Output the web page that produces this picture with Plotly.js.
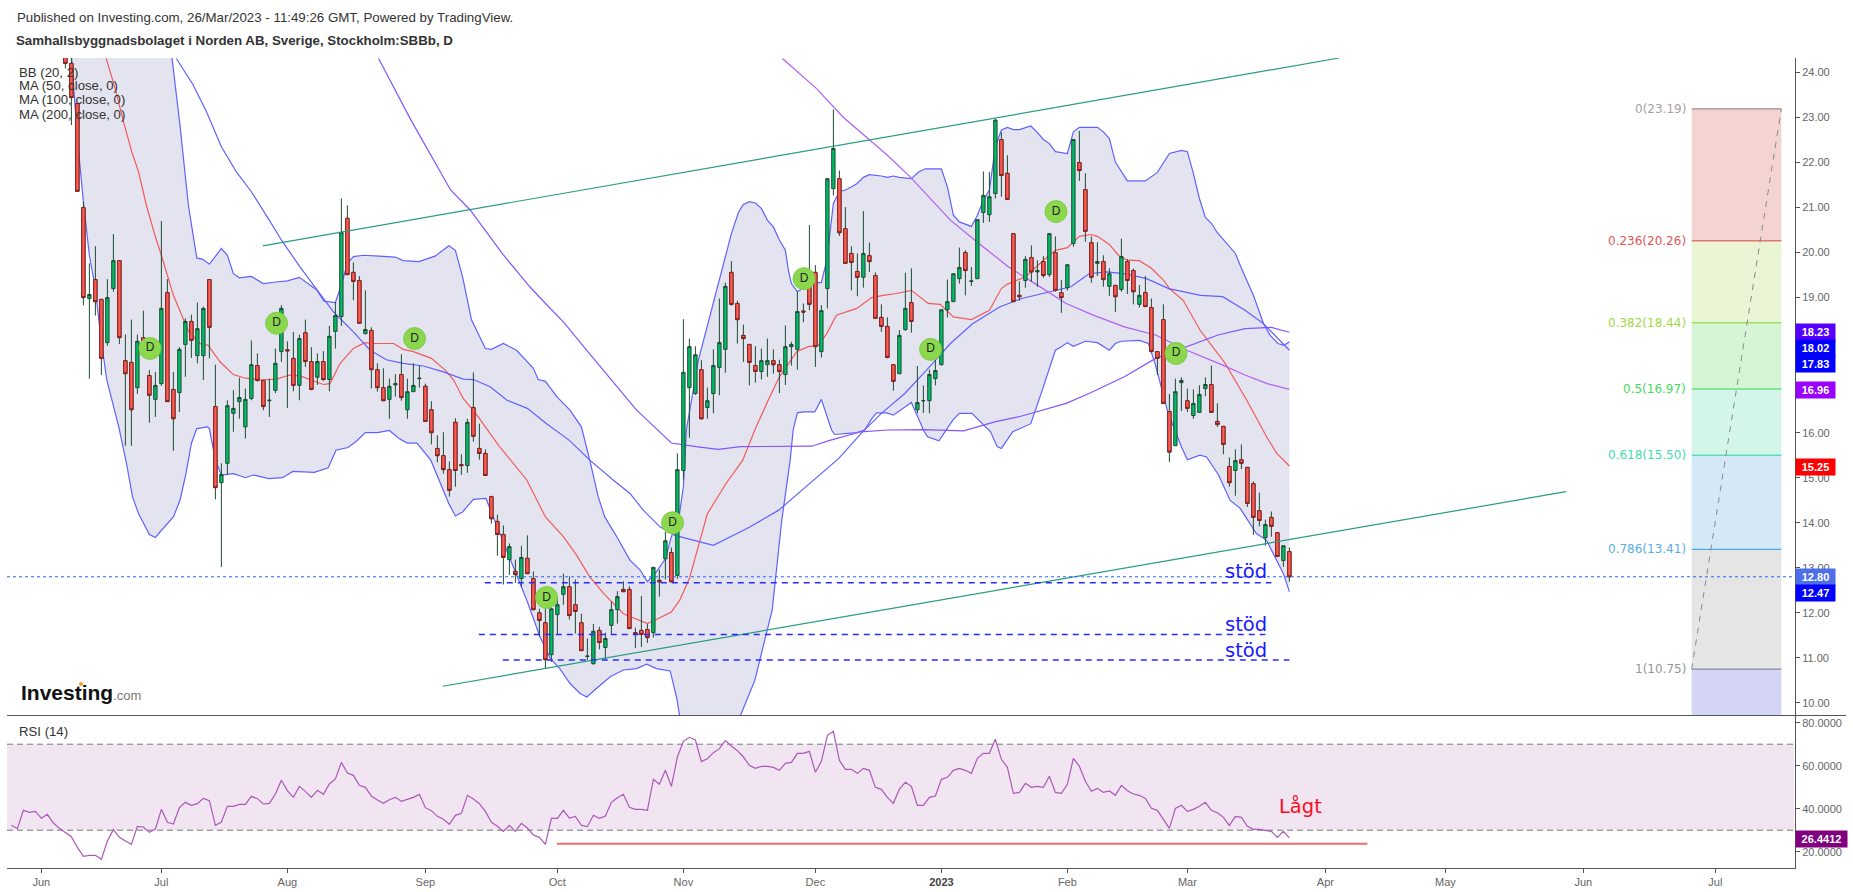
<!DOCTYPE html>
<html>
<head>
<meta charset="utf-8">
<title>SBBb</title>
<script src="https://cdn.plot.ly/plotly-3.0.1.min.js"></script>
<style>
    html, body { margin: 0; padding: 0; background: #fff; }
    #chart { width: 1853px; height: 892px; }
</style>
</head>
<body>
<div id="chart"></div>
<script>
// Daily candles, first one is bar 4 (bar 0 = 1 Jun 2022), one per trading day
const firstBar = 4;
const opens = [24.55,24.20,23.31,21.00,18.98,19.40,18.96,18.00,19.20,19.82,17.60,17.56,17.00,18.11,17.27,16.74,17.09,19.11,16.96,16.89,
    17.96,18.47,17.71,17.71,19.40,16.58,14.89,15.32,16.43,16.69,16.13,16.76,17.49,17.16,16.71,16.94,17.80,17.84,17.65,17.05,
    18.22,17.58,17.23,17.58,17.18,18.25,18.58,20.76,19.56,19.38,18.20,18.27,17.40,17.00,16.74,17.06,17.29,16.51,16.91,17.20,
    17.03,16.51,15.65,15.49,15.18,16.23,15.29,15.27,16.56,15.65,15.54,14.58,14.03,13.74,13.18,12.92,12.76,13.21,12.76,12.00,
    11.78,11.07,11.96,12.41,12.58,12.18,11.78,11.03,10.87,11.61,11.23,11.72,12.07,12.52,12.52,11.56,11.61,11.63,11.56,12.72,
    13.20,13.34,12.83,15.16,17.00,16.87,17.40,16.56,16.87,17.45,17.85,19.56,18.87,18.16,17.96,17.49,17.36,17.51,17.60,17.51,
    17.29,17.91,17.85,18.70,19.24,19.56,17.80,19.20,21.42,21.64,20.53,19.98,19.58,19.45,19.93,19.49,18.56,18.36,17.51,17.31,
    18.29,18.89,16.51,16.71,16.71,17.20,17.51,18.73,18.91,19.42,20.00,19.36,19.42,20.89,20.84,21.31,22.51,21.76,20.42,19.05,
    19.38,19.89,19.57,19.80,19.51,20.00,19.11,19.22,20.20,22.00,21.40,20.22,19.76,19.80,19.25,19.27,19.18,19.80,19.60,18.85,
    19.11,18.78,17.80,18.51,16.47,15.71,17.11,16.71,16.38,16.45,16.98,17.07,16.25,16.14,15.25,15.16,15.40,15.23,14.87,14.27,
    13.67,14.12,13.78,13.16,13.36];
const highs = [24.70,24.32,23.31,21.13,19.76,20.14,18.96,19.41,20.41,19.82,18.18,18.51,18.18,18.71,17.39,17.35,20.70,19.41,17.35,17.90,
    18.54,18.62,18.89,18.80,19.40,17.51,15.32,16.72,16.94,17.22,16.98,18.05,17.76,17.16,17.20,17.87,18.83,18.03,18.24,18.18,
    18.51,17.90,17.76,17.81,18.37,18.90,21.20,21.05,19.78,19.48,19.16,18.34,17.54,17.43,17.20,17.30,17.74,17.20,17.54,17.49,
    17.09,16.70,15.94,16.01,15.36,16.32,15.52,16.31,17.34,16.20,15.63,14.60,14.18,13.94,13.54,13.18,13.49,13.72,12.92,12.09,
    12.50,12.50,12.35,12.87,12.81,12.74,11.98,11.43,11.75,11.69,11.56,12.25,12.48,12.70,12.59,11.67,12.37,11.75,13.01,12.96,
    13.80,13.45,15.54,18.52,18.09,17.92,17.61,17.00,17.85,18.98,19.33,19.81,18.93,18.40,17.96,17.92,17.87,18.09,17.85,17.62,
    18.38,18.02,19.14,18.87,20.61,19.72,18.83,21.64,23.18,21.82,21.01,20.14,19.98,20.92,20.22,19.56,18.85,18.56,17.51,18.28,
    19.55,19.65,17.48,17.05,17.40,17.61,18.73,19.40,19.53,20.11,20.05,19.68,20.73,21.80,21.79,22.97,22.67,22.16,20.42,19.36,
    19.92,20.16,19.83,19.92,20.42,20.36,19.39,19.73,22.51,22.70,21.76,20.36,20.23,19.94,19.65,19.27,20.31,19.85,19.65,19.28,
    19.48,18.98,17.80,18.85,16.86,17.20,17.23,16.98,16.96,17.05,17.23,17.49,16.65,16.14,15.45,15.63,15.74,15.23,14.92,14.67,
    14.07,14.25,13.78,13.49,13.45];
const lows = [24.09,22.83,21.36,18.83,17.20,18.60,17.28,17.93,19.13,17.97,15.71,15.71,16.86,17.76,16.22,16.35,17.04,16.69,15.60,16.46,
    17.24,17.66,17.54,17.17,17.65,14.52,13.02,15.07,16.02,16.31,15.87,16.72,17.13,16.50,16.35,16.88,17.57,16.55,16.92,16.72,
    17.46,16.94,17.06,17.15,16.92,17.87,18.37,19.51,18.94,18.42,18.18,16.98,16.91,16.71,16.31,16.80,16.71,16.31,16.91,17.00,
    16.24,15.74,15.34,15.09,14.58,14.80,15.06,15.11,15.80,15.40,15.05,13.98,13.27,12.63,12.84,12.67,12.58,12.86,12.06,11.47,
    10.76,10.91,11.52,12.18,11.85,11.54,11.16,10.95,10.85,11.19,10.96,11.52,11.76,12.46,11.65,11.22,11.24,11.33,11.45,12.36,
    12.74,12.68,12.76,14.96,15.89,16.84,16.29,16.31,16.43,16.83,17.33,18.82,17.98,17.57,17.05,17.11,17.18,17.24,17.31,16.88,
    17.06,17.49,17.40,18.45,18.72,17.46,17.67,18.76,21.27,20.37,19.76,19.16,19.03,19.22,19.57,18.53,18.24,17.65,16.93,17.30,
    18.26,18.22,16.43,16.44,16.43,17.05,17.49,18.56,18.91,19.31,19.05,19.26,19.41,20.66,20.68,21.20,21.24,21.18,18.91,18.93,
    19.22,19.35,19.24,19.44,19.46,19.13,18.66,19.16,20.13,21.59,20.24,19.33,19.48,19.24,19.04,18.68,19.13,19.08,18.85,18.78,
    18.79,17.79,17.28,16.65,15.35,15.71,16.48,16.46,16.31,16.44,16.81,16.44,16.13,15.52,14.80,14.60,15.19,14.35,13.73,13.92,
    13.49,13.69,13.24,13.02,12.69];
const closes = [24.20,23.44,21.36,19.00,19.07,18.91,17.65,19.00,19.82,18.11,17.31,16.51,18.03,17.83,16.83,17.05,18.76,16.69,16.31,17.85,
    18.47,18.05,18.31,18.76,18.34,14.78,15.07,16.60,16.54,16.78,16.74,17.51,17.16,16.58,16.72,17.54,18.76,17.82,17.05,18.09,
    17.58,16.96,17.58,17.18,18.14,18.60,20.45,19.51,19.36,18.43,18.29,17.40,17.00,16.71,17.03,17.09,16.78,16.91,17.05,17.21,
    16.25,16.00,15.49,15.18,14.72,15.16,15.27,16.23,15.92,15.54,15.05,14.09,13.74,13.23,13.47,12.85,13.23,12.87,12.07,11.83,
    10.96,12.09,12.18,12.58,11.94,12.03,11.16,11.04,11.59,11.34,11.43,12.07,12.36,12.47,11.65,11.53,11.52,11.45,13.01,12.69,
    13.60,12.69,15.18,17.34,17.91,17.73,16.31,16.71,17.49,18.00,19.25,18.85,18.51,18.09,17.56,17.36,17.60,17.60,17.51,17.36,
    17.91,17.96,18.69,18.68,18.85,17.91,18.71,21.64,22.31,20.44,19.76,19.78,19.45,19.98,19.80,18.54,18.36,17.67,17.14,18.16,
    18.76,18.47,16.67,16.71,17.29,17.38,18.73,18.91,19.53,19.67,19.60,19.37,20.73,21.27,21.24,22.94,21.71,21.18,18.91,19.02,
    19.85,19.57,19.60,19.49,20.42,19.16,19.00,19.73,22.51,21.82,20.47,19.45,19.80,19.40,19.53,19.02,19.91,19.38,19.13,19.05,
    18.80,17.80,17.65,16.65,15.57,16.91,17.16,16.54,16.65,16.85,17.07,16.45,16.18,15.74,14.89,15.38,15.32,14.43,14.12,14.05,
    13.96,13.92,13.25,13.49,12.80];

// Bollinger band edges and moving averages, read as vertices [bar, price]
const bbUpperBars = [21.7,23.1,24.5,25.9,26.9,28,30,31,32,33,35,37,38.7,41,43,45.9,47.1,49,50,51,52,53.7,56.3,59,60.3,62.9,65.6,67.9,69,70.2,71.7,74,75,77,79.2,81,82,82.8,84,85.9,88.1,90,91.4,92.8,93.9,95.9,98.1,99.8,101,102.5,104,105,106.2,107,107.5,109.5,112,113.7,115,116.2,117,118,119,120,121,122,123,124,124.5,125,126,126.9,129,130,130.9,132,133,134.2,135.9,137,138,140,141,142,143,145,146.2,147.3,150,151,152,153,155,156,157,158,159,160,161,162,163,164.9,165.9,167,168,169,171,172,173,176,177,178,179,181,184,186,188,190,191,192,193,194,195,196,199,200,202,203.7,204.8,206.1,207.1,208];
const bbUpperVals = [24.40,22.83,21.05,19.88,19.85,19.74,20.09,19.94,19.53,19.44,19.47,19.31,19.34,19.37,19.45,19.17,18.92,18.89,19.28,19.76,19.91,19.94,19.92,19.90,19.82,19.80,19.92,20.15,20.05,19.46,18.50,17.87,17.85,17.98,17.83,17.57,17.43,17.18,17.14,16.80,16.50,16.13,15.39,14.58,14.13,13.69,13.17,12.95,12.69,12.91,13.20,13.69,14.06,14.80,16.06,17.61,18.87,19.76,20.42,20.90,21.07,21.13,21.10,20.98,20.72,20.57,20.28,20.05,19.61,19.31,19.13,19.20,19.33,19.33,19.83,21.09,21.35,21.40,21.53,21.67,21.73,21.70,21.67,21.70,21.67,21.64,21.79,21.86,21.86,21.46,20.83,20.68,20.58,20.83,21.16,21.38,22.35,22.72,22.78,22.73,22.73,22.81,22.68,22.51,22.42,22.24,22.20,22.68,22.78,22.78,22.68,22.53,22.01,21.59,21.59,21.78,22.20,22.27,22.24,21.76,21.20,20.78,20.65,20.44,19.98,19.65,19.05,18.42,18.16,17.98,17.94,18.02];
const bbLowerBars = [5,6,7,8,8.9,10,10.9,11.8,12.9,14.2,15.2,16.2,18,19,19.8,22,23.1,24.1,25,25.9,27.7,28,29,30,32,34,35.3,37.9,40.2,41.9,45.5,47.8,49.1,51.1,52.4,54,56,58,59.6,61,62.6,64.9,66.9,67.9,69,70.2,72,74.1,75.1,79.1,80.9,83.1,84.8,86.4,88.1,89.8,90.9,92.5,94.8,97,99.2,100.9,102.5,104.8,105.9,107,112,115,116.6,118.9,121.8,123.4,124.8,125.3,126,127,128.9,130,131.7,132.2,135.9,137.2,138.4,139.2,140.9,142,145,146.2,147,147.7,149.6,151.9,153,155.1,158.2,159.3,160,161.9,164.9,166.8,169,170,171,172,174,176,178,179,180,183,184.5,185.6,187,187.8,190,191,193.1,194.2,196.2,198.1,199.8,202.5,204.2,205.6,207,208];
const bbLowerVals = [24.40,22.53,21.13,19.94,19.28,18.02,17.17,16.72,16.13,15.31,14.57,14.20,13.74,13.67,13.80,14.13,14.50,15.09,15.76,16.09,16.13,16.09,15.39,15.06,15.09,15.00,15.06,14.98,15.00,15.14,15.12,15.22,15.61,15.67,15.80,16.00,16.00,16.05,15.87,15.77,15.77,15.39,14.76,14.43,14.15,14.24,14.52,14.54,14.20,12.87,12.28,11.47,10.99,10.76,10.43,10.21,10.13,10.32,10.58,10.73,10.76,10.86,10.76,10.71,10.10,9.20,7.50,9.00,9.75,10.50,12.06,14.06,15.39,16.06,16.44,16.46,16.46,16.74,16.06,15.96,16.00,16.06,16.31,16.44,16.44,16.39,16.67,16.31,16.06,15.91,15.82,16.28,16.43,16.43,16.02,15.69,15.65,16.02,16.20,16.94,17.83,17.91,18.00,17.92,18.03,18.00,17.83,17.98,18.03,18.05,17.98,17.54,16.80,16.43,15.69,15.40,15.50,15.46,15.06,14.50,14.32,13.76,13.61,13.24,12.87,12.47];
const bbBasisBars = [10.8,12.3,13.7,15.05,16.2,17.5,19,20,22,23.8,24.5,26.4,27.8,29.8,32,33.7,36.4,39.2,41.4,43.1,44.8,47,48.1,49.8,52,53.9,55.3,58.7,60.3,62,65,67.3,68.7,70.3,72.6,76.2,80.9,84,87,89.2,91.4,93.7,97,101,102.5,105,106.4,108,111,114,116.9,118.9,121,123,125.9,127.8,129.5,130.9,132.5,135.9,138.4,140.3,142.5,145,147.8,149.8,152,155,158,160,161,164,167,169,171,173,175,176,178,179.5,181,183,185,187,188,190.3,193.1,197.3,200.9,204.2,205.9,208];
const bbBasisVals = [24.31,23.64,22.90,22.24,21.79,21.05,20.35,19.94,19.05,18.46,18.26,17.98,17.94,17.57,17.29,17.22,17.17,17.19,17.28,17.26,17.17,17.07,17.09,17.54,17.87,18.00,17.98,17.98,17.85,17.80,17.65,17.39,17.17,16.76,16.39,15.72,14.95,14.13,13.69,13.28,12.80,12.43,11.98,11.76,11.85,12.02,12.28,12.76,14.20,14.85,15.39,16.06,16.68,17.24,17.80,17.91,17.94,18.20,18.61,18.76,19.00,19.05,19.09,19.16,18.87,18.85,18.57,18.51,18.72,19.20,19.30,19.46,19.83,20.05,20.11,20.36,20.40,20.36,20.18,19.94,19.83,19.82,19.65,19.39,19.20,18.94,18.28,17.54,16.72,15.91,15.54,15.26];
const ma50Bars = [22.5,25.3,27.5,30,32.5,35,37.8,40,43.1,45.9,48.7,52,54.8,57.5,60.3,63.7,67,70.3,72,74.8,77.6,81,84.2,88,91.4,95.3,98.1,100.3,103.1,105.6,112,118,122.9,132.9,136.6,140,143.9,147.8,151.5,155.2,159.7,163.4,167.1,171.6,174.6,177.5,180.5,184.2,187.9,193.2,196.9,200.6,203.6,208];
const ma50Vals = [24.31,23.72,23.13,22.35,21.79,21.35,20.76,20.28,19.68,19.17,18.68,18.24,17.83,17.62,17.54,17.48,17.35,17.19,17.18,17.02,16.72,16.54,16.20,15.83,15.39,14.95,14.65,14.28,13.91,13.72,13.50,13.90,14.28,15.43,15.98,16.43,16.87,17.43,17.98,18.42,18.79,18.98,19.09,19.24,19.53,19.57,19.53,19.42,19.20,19.05,19.02,18.72,18.43,17.83];
const ma100Bars = [56.2,61.6,68.2,71.5,76.8,81.4,83.5,87,90.9,94.8,96.4,99.2,101.6,105,109.1,112.8,116.5,128.4,131.4,136.6,141,147,153.7,158.9,163.4,170.8,174.6,180.5,185.7,190.9,196.1,200.6,205,208];
const ma100Vals = [24.31,22.94,21.39,20.94,19.98,19.24,18.94,18.46,17.83,17.20,16.94,16.50,16.20,15.77,15.69,15.63,15.69,15.70,15.83,16.02,16.06,16.07,16.04,16.24,16.37,16.65,16.87,17.24,17.65,17.91,18.17,18.31,18.34,18.23];
const ma200Bars = [123.5,129.2,133.6,137.7,141,144.8,151.5,155.9,161.2,165.6,170.8,175.3,180.5,185.7,190.9,196.9,200.6,204.3,208];
const ma200Vals = [24.31,23.64,23.01,22.53,22.16,21.68,20.72,20.24,19.68,19.31,18.87,18.61,18.35,18.17,17.83,17.50,17.28,17.09,16.96];

// Dividend markers
const divBars = [18.1,39.2,62.2,84.2,105.2,127.1,148.2,169.1,189.1];
const divVals = [17.87,18.43,18.09,12.34,14.00,19.42,17.85,20.91,17.76];

// Drawn trend lines and support levels
const trendUpperBars = [36.9,216.3];
const trendUpperVals = [20.15,24.32];
const trendLowerBars = [66.9,254.1];
const trendLowerVals = [10.37,14.69];
const supportLevels = [12.67,11.52,10.95];
const supportFrom = [73.9,72.9,76.9];
const supportTo = [205,204,208];
const lastClose = 12.80;

// Fibonacci retracement
const fibLevels = ['0','0.236','0.382','0.5','0.618','0.786','1'];
const fibPrices = [23.19,20.26,18.44,16.97,15.50,13.41,10.75];
const fibLine = ['#8a7272','#e03a3a','#84d626','#2fd84a','#1fd3a0','#2a9ad8','#74747c'];
const fibText = ['#a3a3a3','#e25555','#a0d848','#3fdc60','#45dcae','#58aee2','#959595'];
const fibFill = ['#f4d4d3','#eaf5d5','#d6f5d6','#d4f5ea','#d4e9f5','#e5e5e5','#d4d4f5'];
const fibBars = [275.05,290];

// RSI (14): rsiA runs from bar -5 to 109, rsiB from bar 110 to 208
const rsiA = [32.26,30.71,39.24,38.31,38.78,35.52,37.38,33.35,30.87,29.01,27.00,22.03,17.85,18.31,18.31,16.45,24.98,30.25,26.68,24.98,23.43,31.80,31.49,29.01,30.56,39.71,33.66,32.88,40.48,42.96,41.57,42.34,44.82,43.74,32.26,33.82,41.10,41.10,42.03,42.03,45.75,44.67,42.19,42.50,46.84,53.20,48.39,45.29,50.40,48.08,45.29,48.55,46.68,51.49,53.82,61.57,56.61,55.52,50.87,49.94,45.91,44.05,42.50,44.20,45.29,43.43,44.36,45.29,46.68,40.48,39.09,36.45,35.06,32.73,36.92,37.85,46.22,44.51,42.34,38.78,33.66,31.80,29.47,32.26,29.47,33.19,31.02,27.77,26.68,23.43,35.52,35.52,39.24,35.67,36.45,32.26,31.64,36.92,35.52,36.60,42.96,45.13,46.68,40.64,39.71,39.71,39.24,53.66,51.34,57.85,50.40,64.05,71.34,73.20,71.96];
const rsiB = [61.88,63.27,66.06,67.92,71.65,69.16,66.99,64.05,60.17,58.78,59.71,59.71,59.24,57.85,61.10,61.57,65.75,65.75,66.68,56.92,62.03,74.13,75.99,62.50,58.31,58.31,56.45,58.78,57.85,49.94,49.01,45.29,42.50,49.16,52.26,50.40,41.57,41.57,45.29,45.91,53.66,54.59,57.85,58.78,57.85,56.45,63.43,65.75,65.75,72.27,62.96,59.24,47.15,47.61,51.80,49.94,50.40,49.94,55.06,47.61,47.15,51.34,63.43,59.71,52.73,48.08,49.47,47.61,48.23,46.22,50.87,48.39,46.84,46.22,44.82,40.17,39.24,35.06,30.87,40.17,41.57,38.78,39.71,41.10,42.96,39.24,38.16,35.99,32.26,36.45,35.99,31.80,30.40,30.40,29.94,29.47,26.68,29.47,26.44];
const rsiLowLine = [23.72,23.72];
const rsiLowBars = [85.9,221];

// Axis ticks
const monthBars = [0,20,41,64,86,107,129,150,171,191,214,234,257,279];
const monthLabels = ['Jun','Jul','Aug','Sep','Oct','Nov','Dec','<b style="color:#444">2023</b>','Feb','Mar','Apr','May','Jun','Jul'];
const priceTicks = [10,11,12,13,14,15,16,17,18,19,20,21,22,23,24];
const rsiTicks = [20,40,60,80];

// Value tags on the right hand axis
const tagLabels = ['18.23','18.02','17.83','16.96','15.25','12.80','12.47'];
const tagValues = [18.23,18.02,17.83,16.96,15.25,12.80,12.47];
const tagColors = ['#5500ff','#0000ff','#0000ff','#9900ff','#ff0000','#4d6fe8','#0000ff'];
const tagShift = [0,-6.4,-14,-0.7,-0.7,-0.4,-1.5];

const W = 1853, H = 892;
const fx = px => px / W;
const fy = py => 1 - py / H;
const barsOf = (n, start) => Array.from({ length: n }, (_, i) => start + i);

const candleBars = barsOf(closes.length, firstBar);
const redBars = candleBars.filter((_, i) => closes[i] < opens[i]);
const redOpens = opens.filter((o, i) => closes[i] < o);
const redCloses = closes.filter((c, i) => c < opens[i]);

function line(x, y, color, width, yaxis, dash) {
    return { x, y, type: 'scatter', mode: 'lines', xaxis: 'x', yaxis,
        line: { color, width, dash: dash || 'solid' }, hoverinfo: 'skip', showlegend: false };
}

const bandX = bbUpperBars.concat(bbLowerBars.slice().reverse());
const bandY = bbUpperVals.concat(bbLowerVals.slice().reverse());

const traces = [
    { x: bandX, y: bandY, type: 'scatter', mode: 'none', fill: 'toself', fillcolor: '#e4e4f0',
      xaxis: 'x', yaxis: 'y', hoverinfo: 'skip', showlegend: false },
    line(bbUpperBars, bbUpperVals, '#5f61ff', 1.2, 'y'),
    line(bbLowerBars, bbLowerVals, '#5f61ff', 1.2, 'y'),
    line(bbBasisBars, bbBasisVals, '#f25a5a', 1.2, 'y'),
    line(ma50Bars, ma50Vals, '#5f61ff', 1.2, 'y'),
    line(ma100Bars, ma100Vals, '#8355ff', 1.2, 'y'),
    line(ma200Bars, ma200Vals, '#b25ff5', 1.2, 'y'),
    // wicks and green bodies
    { type: 'candlestick', x: candleBars, open: opens, high: highs, low: lows, close: closes,
      xaxis: 'x', yaxis: 'y3', whiskerwidth: 0, showlegend: false, hoverinfo: 'skip',
      increasing: { line: { color: '#1b4d33', width: 1 }, fillcolor: '#00bb66' },
      decreasing: { line: { color: '#1b4d33', width: 1 }, fillcolor: '#ff5a50' } },
    // red bodies again for their own border colour
    { type: 'candlestick', x: redBars, open: redOpens, high: redOpens, low: redCloses, close: redCloses,
      xaxis: 'x', yaxis: 'y3', whiskerwidth: 0, showlegend: false, hoverinfo: 'skip',
      increasing: { line: { color: '#8a2020', width: 1 }, fillcolor: '#ff5a50' },
      decreasing: { line: { color: '#8a2020', width: 1 }, fillcolor: '#ff5a50' } },
    line(trendUpperBars, trendUpperVals, '#2a9d80', 1.2, 'y3'),
    line(trendLowerBars, trendLowerVals, '#2a9d80', 1.2, 'y3'),
    { x: divBars, y: divVals, type: 'scatter', mode: 'markers+text', text: divBars.map(() => 'D'),
      textposition: 'middle center', textfont: { family: 'Liberation Sans', size: 12, color: '#222' },
      marker: { size: 22, color: '#8bd84f', line: { color: '#80cc48', width: 1 } },
      xaxis: 'x', yaxis: 'y3', hoverinfo: 'skip', showlegend: false },
    line(rsiLowBars, rsiLowLine, '#f56c6c', 2, 'y2'),
    line(barsOf(rsiA.length, -5).concat(barsOf(rsiB.length, 110)), rsiA.concat(rsiB), '#ad58b8', 1.2, 'y2')
];

supportLevels.forEach((lvl, i) => {
    traces.push(line([supportFrom[i], supportTo[i]], [lvl, lvl], '#2a2aff', 1.5, 'y3', '6px,5px'));
});

const AXIS_GREY = '#555555';
const TICK_FONT = { family: 'Liberation Sans', size: 11, color: '#666666' };

const shapes = [];
fibPrices.forEach((p, i) => {
    const lower = i < fibPrices.length - 1 ? fibPrices[i + 1] : 9.72;
    shapes.push({ type: 'rect', layer: 'below', xref: 'x', yref: 'y', x0: fibBars[0], x1: fibBars[1],
        y0: p, y1: lower, fillcolor: fibFill[i], line: { width: 0 } });
});
fibPrices.forEach((p, i) => {
    shapes.push({ type: 'line', xref: 'x', yref: 'y', x0: fibBars[0], x1: fibBars[1], y0: p, y1: p,
        line: { color: fibLine[i], width: 1 } });
});
shapes.push({ type: 'line', xref: 'x', yref: 'y', x0: fibBars[0], x1: fibBars[1],
    y0: fibPrices[6], y1: fibPrices[0], line: { color: '#8a8a8a', width: 1, dash: '6px,6px' } });
// last price, RSI band, pane separator
shapes.push({ type: 'line', xref: 'paper', yref: 'y', x0: fx(7), x1: fx(1795), y0: lastClose, y1: lastClose,
    line: { color: '#2962ff', width: 1, dash: 'dot' } });
shapes.push({ type: 'rect', layer: 'below', xref: 'paper', yref: 'y2', x0: fx(7), x1: fx(1794), y0: 30, y1: 70,
    fillcolor: '#f0e5f1', line: { width: 0 } });
[70, 30].forEach(v => shapes.push({ type: 'line', layer: 'below', xref: 'paper', yref: 'y2', x0: fx(7), x1: fx(1795),
    y0: v, y1: v, line: { color: '#787878', width: 1, dash: '6px,4px' } }));
shapes.push({ type: 'line', xref: 'paper', yref: 'paper', x0: fx(7), x1: fx(1846), y0: fy(715.5), y1: fy(715.5),
    line: { color: AXIS_GREY, width: 1 } });
shapes.push({ type: 'circle', xref: 'paper', yref: 'paper', x0: fx(79), x1: fx(83), y0: fy(686), y1: fy(682),
    fillcolor: '#f5a623', line: { width: 0 } });

function paperText(text, px, py, size, extra) {
    return Object.assign({ text, xref: 'paper', yref: 'paper', x: fx(px), y: fy(py), xanchor: 'left', yanchor: 'middle',
        showarrow: false, align: 'left', font: { family: 'Liberation Sans', size, color: '#333' } }, extra || {});
}

const annotations = [
    paperText('Published on Investing.com, 26/Mar/2023 - 11:49:26 GMT, Powered by TradingView.', 15, 17, 13.3),
    paperText('<b>Samhallsbyggnadsbolaget i Norden AB, Sverige, Stockholm:SBBb, D</b>', 14, 40, 13.3),
    paperText('BB (20, 2)', 17, 72, 13.2),
    paperText('MA (50, close, 0)', 17, 86, 13.2),
    paperText('MA (100, close, 0)', 17, 100, 13.2),
    paperText('MA (200, close, 0)', 17, 114.5, 13.2),
    paperText('RSI (14)', 17, 731.5, 13.2),
    paperText('<b>Investing</b><span style="color:#777;font-size:13px">.com</span>', 19, 692, 21, { font: { family: 'Liberation Sans', size: 21, color: '#111' } }),
    paperText('Lågt', 1277, 806, 19.5, { font: { family: 'DejaVu Sans', size: 19.5, color: '#ff0a1e' } })
];

[579, 632, 658].forEach(baseline => {
    annotations.push(paperText('stöd', 1223, baseline - 8, 19.5, { font: { family: 'DejaVu Sans', size: 19.5, color: '#1a1aff' } }));
});

fibLevels.forEach((lvl, i) => {
    annotations.push({ text: lvl + '(' + fibPrices[i].toFixed(2) + ')', xref: 'x', yref: 'y', x: fibBars[0] - 0.65, y: fibPrices[i],
        xanchor: 'right', yanchor: 'middle', showarrow: false,
        font: { family: 'DejaVu Sans', size: 12, color: fibText[i] } });
});

tagLabels.forEach((t, i) => {
    annotations.push({ text: '<b>' + t + '</b>', xref: 'paper', yref: 'y', x: fx(1795), y: tagValues[i], yshift: tagShift[i],
        xanchor: 'left', yanchor: 'middle', showarrow: false, width: 39, height: 16, borderpad: 0, align: 'center',
        bgcolor: tagColors[i], font: { family: 'Liberation Sans', size: 11, color: '#fff' } });
});
annotations.push({ text: '<b>26.4412</b>', xref: 'paper', yref: 'y2', x: fx(1795), y: 26.44, yshift: -1,
    xanchor: 'left', yanchor: 'middle', showarrow: false, width: 51, height: 16, borderpad: 0, align: 'center',
    bgcolor: '#800080', font: { family: 'Liberation Sans', size: 11, color: '#fff' } });

const layout = {
    width: W, height: H,
    margin: { l: 0, r: 0, t: 0, b: 0 },
    paper_bgcolor: '#ffffff', plot_bgcolor: 'rgba(0,0,0,0)',
    showlegend: false, hovermode: false,
    boxgap: 0.2,
    font: { family: 'Liberation Sans' },
    xaxis: { domain: [fx(7), fx(1795)], range: [-5.73, 292.27], anchor: 'y2', showgrid: false, zeroline: false,
        tickmode: 'array', tickvals: monthBars, ticktext: monthLabels, ticks: 'outside', ticklen: 4, tickcolor: AXIS_GREY,
        tickfont: TICK_FONT, showline: true, linecolor: AXIS_GREY, linewidth: 1,
        rangeslider: { visible: false } },
    yaxis: { domain: [fy(715.5), fy(58)], range: [9.72, 24.32], side: 'right', anchor: 'x', showgrid: false, zeroline: false,
        tickmode: 'array', tickvals: priceTicks, tickformat: '.2f', ticks: 'outside', ticklen: 4, tickcolor: AXIS_GREY,
        tickfont: TICK_FONT, showline: true, linecolor: AXIS_GREY, linewidth: 1 },
    yaxis2: { domain: [fy(868), fy(715.5)], range: [12.42, 83.35], side: 'right', anchor: 'x', showgrid: false, zeroline: false,
        tickmode: 'array', tickvals: rsiTicks, tickformat: '.4f', ticks: 'outside', ticklen: 4, tickcolor: AXIS_GREY,
        tickfont: TICK_FONT, showline: true, linecolor: AXIS_GREY, linewidth: 1 },
    // candles sit on an overlay axis so the band fill stays underneath them
    yaxis3: { overlaying: 'y', range: [9.72, 24.32], side: 'right', anchor: 'x', visible: false },
    shapes, annotations
};

Plotly.newPlot('chart', traces, layout, { displayModeBar: false, staticPlot: true });
</script>
</body>
</html>
